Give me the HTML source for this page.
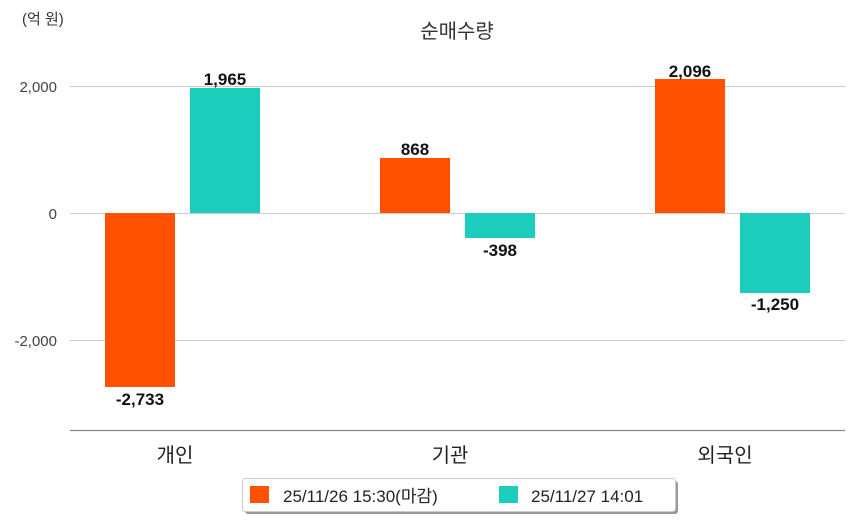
<!DOCTYPE html>
<html><head><meta charset="utf-8"><style>
body{margin:0;background:#fff}
svg{display:block;font-family:"Liberation Sans","Noto Sans CJK KR",sans-serif}
</style></head><body>
<svg width="854" height="520" xmlns="http://www.w3.org/2000/svg">
<text x="22" y="24" font-size="15" fill="#333">(억 원)</text>
<text x="457" y="38" font-size="20" fill="#333" text-anchor="middle">순매수량</text>
<g stroke="#ccc" stroke-width="1">
<line x1="70" y1="86.5" x2="845" y2="86.5"/>
<line x1="70" y1="213.5" x2="845" y2="213.5"/>
<line x1="70" y1="340.5" x2="845" y2="340.5"/>
</g>
<line x1="70" y1="430.5" x2="845" y2="430.5" stroke="#888" stroke-width="1.2"/>
<g font-size="15" fill="#444" text-anchor="end">
<text x="57" y="92">2,000</text>
<text x="57" y="219">0</text>
<text x="57" y="346">-2,000</text>
</g>
<g>
<rect x="105" y="213" width="70" height="174" fill="#ff5100"/>
<rect x="190" y="88" width="70" height="125" fill="#1ccdbb"/>
<rect x="380" y="158" width="70" height="55" fill="#ff5100"/>
<rect x="465" y="213" width="70" height="25" fill="#1ccdbb"/>
<rect x="655" y="79" width="70" height="134" fill="#ff5100"/>
<rect x="740" y="213" width="70" height="80" fill="#1ccdbb"/>
</g>
<g font-size="17" font-weight="bold" fill="#111" text-anchor="middle">
<text x="140" y="405">-2,733</text>
<text x="225" y="85">1,965</text>
<text x="415" y="155">868</text>
<text x="500" y="256">-398</text>
<text x="690" y="77">2,096</text>
<text x="775" y="310">-1,250</text>
</g>
<g font-size="20" fill="#222" text-anchor="middle">
<text x="175" y="462">개인</text>
<text x="450" y="462">기관</text>
<text x="725" y="462">외국인</text>
</g>
<rect x="245" y="481" width="433" height="33" rx="3" fill="#999"/>
<rect x="242.5" y="478.5" width="433" height="33" rx="3" fill="#fff" stroke="#ccc"/>
<rect x="250" y="486" width="19" height="17" fill="#ff5100"/>
<text x="283" y="502" font-size="17" fill="#222">25/11/26 15:30(마감)</text>
<rect x="499" y="486" width="19" height="17" fill="#1ccdbb"/>
<text x="531" y="502" font-size="17" fill="#222">25/11/27 14:01</text>
</svg>
</body></html>
